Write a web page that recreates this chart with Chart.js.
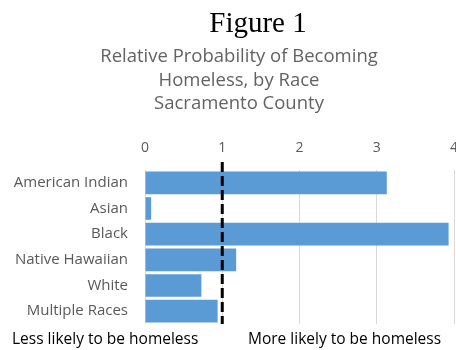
<!DOCTYPE html>
<html>
<head>
<meta charset="utf-8">
<script src="https://cdn.jsdelivr.net/npm/chart.js@4"></script>
<style>
  html, body { margin: 0; padding: 0; background: #fff; }
  #wrap { width: 456px; height: 350px; }
</style>
</head>
<body>
<div id="wrap"><canvas id="grafico" width="456" height="350"></canvas></div>
<script>
const races = ['American Indian', 'Asian', 'Black', 'Native Hawaiian', 'White', 'Multiple Races'];
const relativeProbability = [3.13, 0.08, 3.93, 1.18, 0.73, 0.94];
const xTicks = [0, 1, 2, 3, 4];
const parityValue = 1;

const figureTitle = 'Figure 1';
const chartTitle = ['Relative Probability of Becoming', 'Homeless, by Race', 'Sacramento County'];
const lessLabel = 'Less likely to be homeless';
const moreLabel = 'More likely to be homeless';

const fontFamily = "'Open Sans', 'Noto Sans', sans-serif";

// titles, dashed parity line and the two footer captions
const annotations = {
  id: 'annotations',
  afterDatasetsDraw(chart) {
    const ctx = chart.ctx;
    const x = chart.scales.x;
    const area = chart.chartArea;
    ctx.save();

    ctx.fillStyle = '#000';
    ctx.font = "29px 'Liberation Serif', serif";
    ctx.textAlign = 'center';
    ctx.textBaseline = 'alphabetic';
    ctx.fillText(figureTitle, 258, 32);

    ctx.fillStyle = '#636363';
    ctx.font = '18.5px ' + fontFamily;
    chartTitle.forEach((line, i) => ctx.fillText(line, 239, 62 + i * 23.5));

    const px = x.getPixelForValue(parityValue);
    ctx.strokeStyle = '#000';
    ctx.lineWidth = 3;
    ctx.setLineDash([10, 4]);
    ctx.beginPath();
    ctx.moveTo(px, 162);
    ctx.lineTo(px, area.bottom);
    ctx.stroke();
    ctx.setLineDash([]);

    ctx.fillStyle = '#000';
    ctx.font = '15.5px ' + fontFamily;
    ctx.textAlign = 'left';
    ctx.fillText(lessLabel, 12, 344);
    ctx.fillText(moreLabel, 248, 344);
    ctx.restore();
  }
};

new Chart(document.getElementById('grafico'), {
  type: 'bar',
  data: {
    labels: races,
    datasets: [{
      data: relativeProbability,
      backgroundColor: '#5b9bd5',
      categoryPercentage: 1,
      barPercentage: 0.88
    }]
  },
  options: {
    indexAxis: 'y',
    responsive: false,
    animation: false,
    layout: { padding: { top: 125, left: 0, right: 2, bottom: 19 } },
    plugins: {
      legend: { display: false },
      tooltip: { enabled: false }
    },
    scales: {
      x: {
        position: 'top',
        min: 0,
        max: 4,
        afterBuildTicks: scale => { scale.ticks = xTicks.map(v => ({ value: v })); },
        afterFit: scale => { scale.height = 45; scale.paddingRight = 0; scale.paddingLeft = 0; },
        ticks: { color: '#595959', font: { family: fontFamily, size: 14 }, padding: 14 },
        grid: { color: '#d9d9d9', drawTicks: false, tickLength: 0 },
        border: { display: false }
      },
      y: {
        afterFit: scale => { scale.width = 145; },
        ticks: { color: '#595959', font: { family: fontFamily, size: 15 }, padding: 17 },
        grid: { display: false, drawTicks: false },
        border: { display: false }
      }
    }
  },
  plugins: [annotations]
});
</script>
</body>
</html>
